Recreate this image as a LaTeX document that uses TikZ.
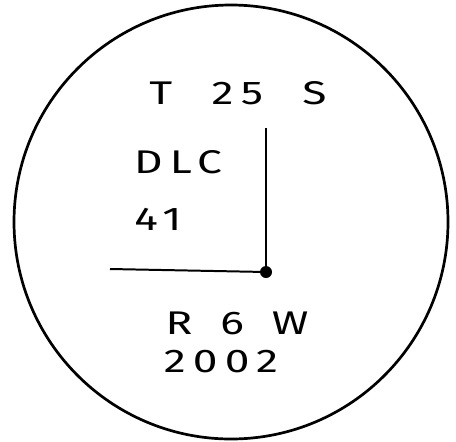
\documentclass[tikz,border=0pt]{standalone}
\usepackage{fontspec}
\setmainfont{Fira Sans}
\newfontfamily\handfont[LetterSpace=22, FakeStretch=1.35]{Fira Sans}
\usetikzlibrary{positioning}

\begin{document}
\begin{tikzpicture}[x=0.03cm, y=-0.03cm]
    \tikzstyle{hand} = [inner sep=0pt, font=\handfont\fontsize{28}{30}\selectfont]
    \tikzstyle{rim} = [line width=2.3pt]
    \tikzstyle{edge} = [line width=1.7pt]
    \useasboundingbox (0,0) rectangle (456,441);

    % outer ring
    \draw[rim] (231,222) circle [radius=217];

    % township / range labels
    \node[hand] (town) at (238,93) {T\hspace{1.2em}25\hspace{1.2em}S};
    \node[hand] (dlc) at (178,162) {DLC};
    \node[hand] (num) at (158,219) {41};
    \node[hand] (range) at (237,323) {R\hspace{0.85em}6\hspace{0.85em}W};
    \node[hand] (year) at (221,362) {2002};

    % corner
    \node[circle, fill, inner sep=0pt, minimum size=0.36cm] (pin) at (266,272) {};
    \coordinate (north) at (266,128);
    \coordinate (west) at (110,269);
    \draw[edge] (north) -- (pin.center);
    \draw[edge] (west) -- (pin.center);
\end{tikzpicture}
\end{document}
